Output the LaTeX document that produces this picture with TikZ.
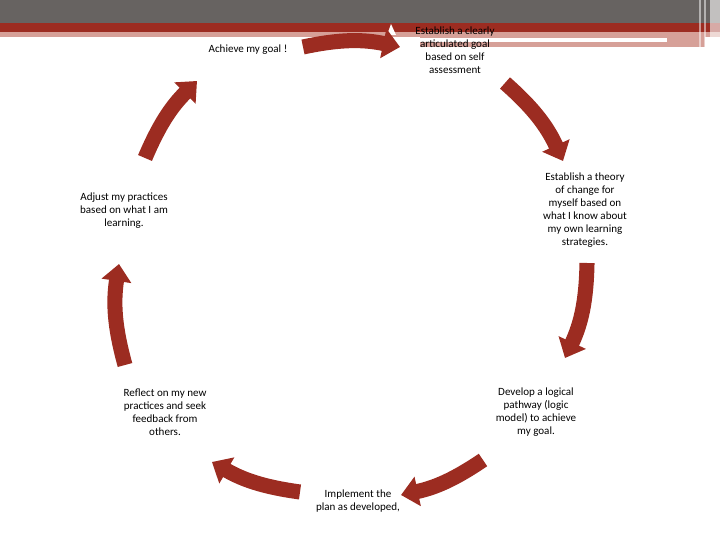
\documentclass[tikz,border=0pt]{standalone}
\usepackage{fontspec}
\setmainfont{Carlito}
\usetikzlibrary{arrows.meta,positioning,calc}
\definecolor{cycred}{RGB}{156,44,33}
\definecolor{bandgray}{RGB}{103,99,97}
\definecolor{bandpink}{RGB}{214,160,152}

\begin{document}
\begin{tikzpicture}[
    x=0.035cm, y=0.035cm,
    stage/.style = {align=center, inner sep=0pt, font=\fontsize{11}{13}\selectfont},
    cyc/.style = {draw=cycred, line width=15pt, -{Triangle[width=29pt,length=17pt]}}
]
\useasboundingbox (0,0) rectangle (720,540);

% header bands
\fill[bandgray] (0,517) rectangle (720,540);
\fill[cycred] (0,508) rectangle (720,517);
\fill[bandpink] (0,503) rectangle (720,508);
\fill[bandpink] (420,493) rectangle (705,503);
\fill[white] (420,498) rectangle (667,502);
\fill[white] (387,505) -- (391,516) -- (396,505) -- cycle;
\fill[white, opacity=0.5] (699,490) rectangle (701,540);
\fill[white, opacity=0.5] (704,490) rectangle (706,540);
\fill[white, opacity=0.6] (710,490) rectangle (720,540);

% stages
\node[stage] (clear) at (455,490) {Establish a clearly\\articulated goal\\based on self\\assessment};
\node[stage] (theory) at (585,330) {Establish a theory\\of change for\\myself based on\\what I know about\\my own learning\\strategies.};
\node[stage] (logic) at (536,128) {Develop a logical\\pathway (logic\\model) to achieve\\my goal.};
\node[stage] (implement) at (358,39) {Implement the\\plan as developed,};
\node[stage] (reflect) at (165,128) {Reflect on my new\\practices and seek\\feedback from\\others.};
\node[stage] (adjust) at (124,329) {Adjust my practices\\based on what I am\\learning.};
\node[stage] (goal) at (248,490) {Achieve my goal !};

% arrow ends
\coordinate (a1) at (303,493); \coordinate (b1) at (400,493);
\coordinate (a2) at (505,457); \coordinate (b2) at (563,379);
\coordinate (a3) at (587,277); \coordinate (b3) at (565,182);
\coordinate (a4) at (483,80);  \coordinate (b4) at (401,45);
\coordinate (a5) at (300,48);  \coordinate (b5) at (212,78);
\coordinate (a6) at (125,175); \coordinate (b6) at (119,276);
\coordinate (a7) at (145,382); \coordinate (b7) at (197,459);

\draw[cyc] (a1) to[bend left=12] (b1);
\draw[cyc] (a2) to[bend left=12] (b2);
\draw[cyc] (a3) to[bend left=12] (b3);
\draw[cyc] (a4) to[bend left=11] (b4);
\draw[cyc] (a5) to[bend left=11] (b5);
\draw[cyc] (a6) to[bend left=12] (b6);
\draw[cyc] (a7) to[bend left=11] (b7);
\end{tikzpicture}
\end{document}
